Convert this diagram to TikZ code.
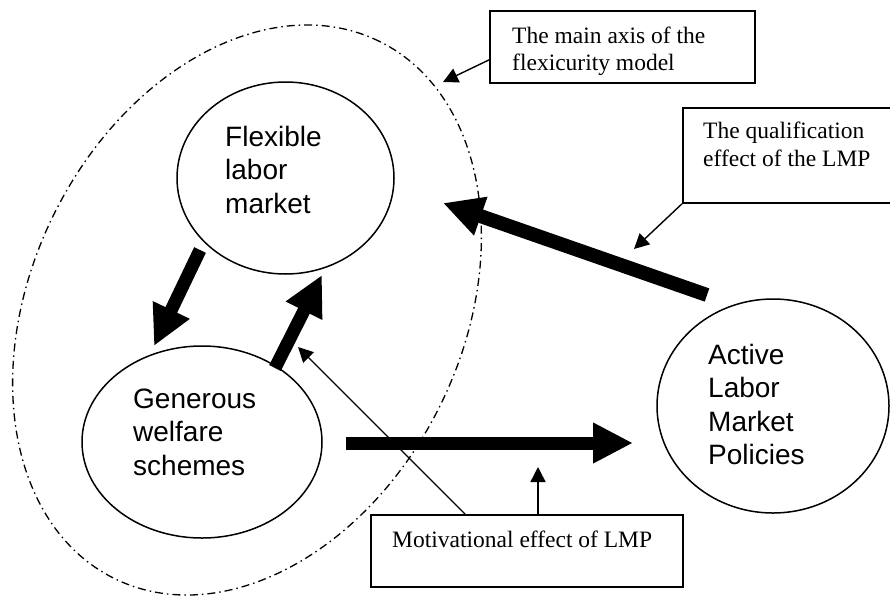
\documentclass[tikz,border=0pt]{standalone}
\usepackage{fontspec}
\setmainfont{Liberation Serif}
\setsansfont{Liberation Sans}
\usetikzlibrary{arrows.meta, shapes.geometric}

\begin{document}
\begin{tikzpicture}[x=1pt, y=-1pt,
  oval/.style={draw, ellipse, line width=1.5pt, inner sep=0pt},
  ovaltext/.style={font=\sffamily\fontsize{28}{33.5}\selectfont, align=left, anchor=west, inner sep=0pt},
  box/.style={draw, line width=1.8pt, anchor=north west, inner sep=0pt},
  boxtext/.style={font=\fontsize{23.5}{27.5}\selectfont, align=left, anchor=west, inner sep=0pt},
  bigarrow/.style={line width=13pt, -{Triangle[width=38pt, length=40pt]}},
  thinarrow/.style={line width=1.4pt, -{Triangle[width=15pt, length=15pt]}}]
\useasboundingbox (0,0) rectangle (890,597);
\node[oval, line width=1.3pt, dash pattern=on 8pt off 4pt on 1.5pt off 4pt, minimum width=599pt, minimum height=431pt, rotate=63.7] (axis) at (247,310) {};
\node[oval, minimum width=217pt, minimum height=192pt] (flex) at (285.5,178) {};
\node[oval, minimum width=240pt, minimum height=192pt] (gen) at (202,442) {};
\node[oval, minimum width=232pt, minimum height=214pt] (almp) at (773,406) {};
\node[ovaltext] (flextext) at (225,169.5) {Flexible\\labor\\market};
\node[ovaltext] (gentext) at (133,432) {Generous\\welfare\\schemes};
\node[ovaltext] (almptext) at (708,404.5) {Active\\Labor\\Market\\Policies};
\node[box, minimum width=265pt, minimum height=72pt] (axisbox) at (489,10) {};
\node[box, minimum width=212pt, minimum height=95pt] (qualbox) at (682,107) {};
\node[box, minimum width=312pt, minimum height=72pt] (motbox) at (370,514) {};
\node[boxtext] (axistext) at (512,51.5) {The main axis of the\\flexicurity model};
\node[boxtext] (qualtext) at (703,144.5) {The qualification\\effect of the LMP};
\node[boxtext] (mottext) at (392,539) {Motivational effect of LMP};
% ends of the heavy arrows
\coordinate (fgtail) at (200,250); \coordinate (fghead) at (154,346);
\coordinate (gftail) at (275,368); \coordinate (gfhead) at (322,275);
\coordinate (gatail) at (346,443); \coordinate (gahead) at (633,443);
\coordinate (aftail) at (707,295); \coordinate (afhead) at (443,203);
\draw[bigarrow] (fgtail)--(fghead);
\draw[bigarrow] (gftail)--(gfhead);
\draw[bigarrow] (gatail)--(gahead);
\draw[bigarrow, line width=14pt] (aftail)--(afhead);
% callouts
\coordinate (axistip) at (443,82);
\coordinate (qualtip) at (634,249);
\coordinate (mottip) at (298,347);
\coordinate (motup) at (538,467);
\draw[thinarrow] ([yshift=-13pt]axisbox.west)--(axistip);
\draw[thinarrow] (qualbox.south west)--(qualtip);
\draw[thinarrow] ([xshift=95pt]motbox.north west)--(mottip);
\draw[thinarrow] ([xshift=168pt]motbox.north west)--(motup);
\end{tikzpicture}
\end{document}
